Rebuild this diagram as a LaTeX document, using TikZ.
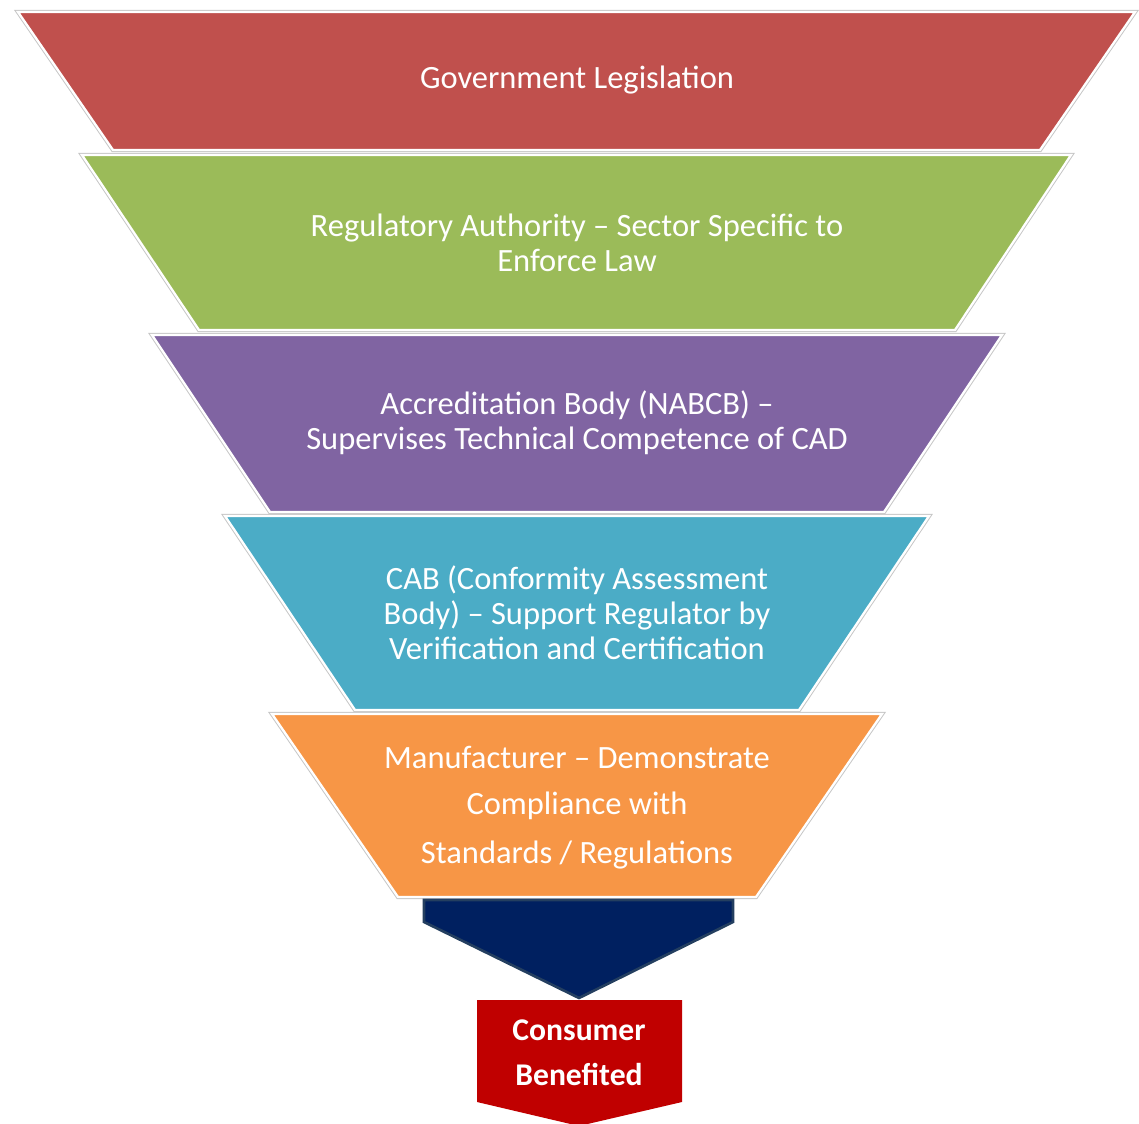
\documentclass[tikz,border=0pt]{standalone}
\usepackage{xcolor}
\usepackage{tikz}
\usepackage{fontspec}
\setmainfont{Carlito}
\usetikzlibrary{positioning, calc}
\definecolor{legred}{RGB}{192,80,77}
\definecolor{reggreen}{RGB}{155,187,89}
\definecolor{accpurple}{RGB}{128,100,162}
\definecolor{cabblue}{RGB}{75,172,198}
\definecolor{manorange}{RGB}{247,150,70}
\definecolor{arrownavy}{RGB}{0,32,96}
\definecolor{arrowedge}{RGB}{36,63,96}
\definecolor{consred}{RGB}{192,0,0}

\begin{document}
\begin{tikzpicture}[x=0.02cm,y=-0.02cm,
    livello/.style={preaction={draw=gray!45,line width=2.4pt},draw=white,line width=1.3pt,line join=miter},
    testo/.style={white,align=center,font=\fontsize{18.5}{20}\selectfont},
    rigo/.style={white,font=\fontsize{18.5}{20}\selectfont}]
    \useasboundingbox (0,0) rectangle (1139,1124);
    % Legislazione
    \fill[legred,livello] (18,12) -- (1135,12) -- (1040,150) -- (113,150) -- cycle;
    \node[testo] (gov) at (577,80) {Government Legislation};
    % Autorita di regolazione
    \fill[reggreen,livello] (82,155) -- (1071,155) -- (955,330) -- (199,330) -- cycle;
    \node[testo] (reg) at (577,243) {Regulatory Authority -- Sector Specific to\\Enforce Law};
    % Ente di accreditamento
    \fill[accpurple,livello] (152,335) -- (1002,335) -- (884,512) -- (270,512) -- cycle;
    \node[testo] (acc) at (577,423) {Accreditation Body (NABCB) --\\Supervises Technical Competence of CAD};
    % CAB
    \fill[cabblue,livello] (225,516) -- (929,516) -- (799,710) -- (355,710) -- cycle;
    \node[testo] (cab) at (577,613) {CAB (Conformity Assessment\\Body) -- Support Regulator by\\Verification and Certification};
    % Produttore
    \fill[manorange,livello] (272,714) -- (882,714) -- (756,897) -- (398,897) -- cycle;
    \node[rigo] (man1) at (577,757) {Manufacturer -- Demonstrate};
    \node[rigo] (man2) at (577,806) {Compliance with};
    \node[rigo] (man3) at (577,855) {Standards / Regulations};
    % Freccia verso il consumatore
    \filldraw[fill=arrownavy,draw=arrowedge,line width=1.5pt,line join=miter] (424,900) -- (733,900) -- (733,922) -- (579,998) -- (424,922) -- cycle;
    % Consumatore
    \fill[consred] (477,1000) -- (682,1000) -- (682,1102) -- (579,1126) -- (477,1102) -- cycle;
    \node[white,align=center,font=\bfseries\fontsize{18}{25.5}\selectfont] (cons) at (579,1053) {Consumer\\Benefited};
\end{tikzpicture}
\end{document}
